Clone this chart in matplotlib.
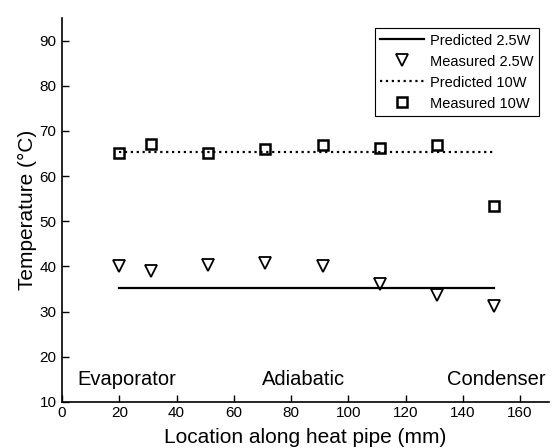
import matplotlib
matplotlib.use('Agg')
import matplotlib.pyplot as plt

plt.rcParams['font.family'] = ['Liberation Sans', 'DejaVu Sans']

# data
x_meas = [20, 31, 51, 71, 91, 111, 131, 151]
meas_10w = [65.1, 67.1, 65.1, 66.1, 66.9, 66.2, 67.0, 53.4]
meas_2_5w = [40.2, 39.0, 40.4, 40.7, 40.2, 36.2, 33.6, 31.3]
x_pred = [20, 151]
pred_10w = [65.3, 65.3]
pred_2_5w = [35.2, 35.2]

regions = ['Evaporator', 'Adiabatic', 'Condenser']
region_x = [5.5, 70, 134.5]
region_y = 14.9

fig = plt.figure(figsize=(5.55, 4.48), dpi=100)
ax = fig.add_axes([0.1117, 0.1027, 0.877, 0.857])

ax.plot(x_pred, pred_2_5w, 'k-', lw=1.6, label='Predicted 2.5W')
ax.plot(x_meas, meas_2_5w, 'v', ms=8, mfc='none', mec='k', mew=1.3,
        label='Measured 2.5W')
ax.plot(x_pred, pred_10w, 'k:', lw=1.6, label='Predicted 10W')
ax.plot(x_meas, meas_10w, 's', ms=7, mfc='none', mec='k', mew=1.8,
        label='Measured 10W')

for name, xx in zip(regions, region_x):
    ax.text(xx, region_y, name, fontsize=14.5, va='center', ha='left')

ax.set_xlim(0, 170)
ax.set_ylim(10, 95)
ax.set_xticks(range(0, 170, 20))
ax.set_yticks(range(10, 100, 10))
ax.tick_params(direction='in', length=5, width=1, labelsize=11, colors='k')
ax.tick_params(axis='x', pad=3)
ax.tick_params(axis='y', pad=4)
ax.spines['top'].set_visible(False)
ax.spines['right'].set_visible(False)
for s in ('left', 'bottom'):
    ax.spines[s].set_linewidth(1.2)

ax.set_xlabel('Location along heat pipe (mm)', fontsize=15, labelpad=6)
ax.set_ylabel('Temperature (°C)', fontsize=15, labelpad=2)

leg = ax.legend(loc='upper right', bbox_to_anchor=(0.994, 0.992), fontsize=10.5,
                frameon=True, fancybox=False, edgecolor='k', framealpha=1,
                handlelength=3.0, borderpad=0.35, labelspacing=0.48,
                handletextpad=0.4)
leg.get_frame().set_linewidth(0.8)

fig.savefig('out.png', dpi=100)
